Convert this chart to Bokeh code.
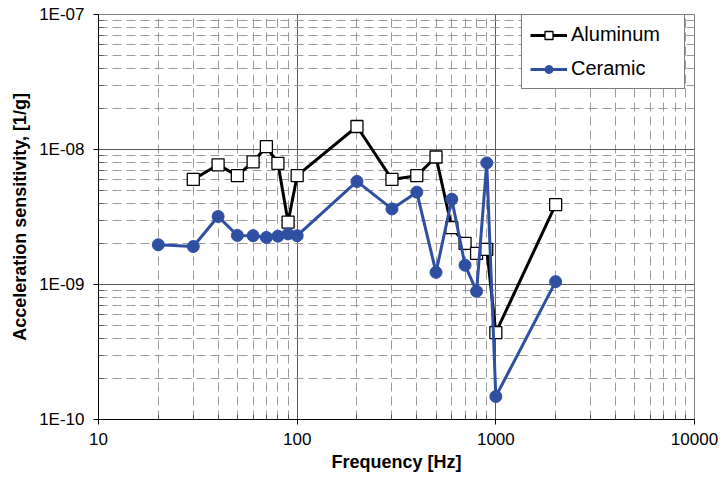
from bokeh.plotting import figure
from bokeh.models import FixedTicker, CustomJSTickFormatter, Legend, LegendItem
from bokeh.embed import file_html
from bokeh.resources import INLINE

# ---- data ----
alu_freq = [30, 40, 50, 60, 70, 80, 90, 100, 200, 300, 400, 500, 600, 700, 800, 900, 1000, 2000]
alu_sens = [6.0e-9, 7.7e-9, 6.4e-9, 8.1e-9, 1.05e-8, 7.9e-9, 2.9e-9, 6.4e-9, 1.48e-8,
            6.0e-9, 6.4e-9, 8.8e-9, 2.64e-9, 2.02e-9, 1.7e-9, 1.82e-9, 4.4e-10, 3.9e-9]
cer_freq = [20, 30, 40, 50, 60, 70, 80, 90, 100, 200, 300, 400, 500, 600, 700, 800, 900, 1000, 2000]
cer_sens = [1.97e-9, 1.91e-9, 3.19e-9, 2.31e-9, 2.3e-9, 2.23e-9, 2.28e-9, 2.37e-9, 2.3e-9,
            5.8e-9, 3.63e-9, 4.83e-9, 1.23e-9, 4.28e-9, 1.39e-9, 8.9e-10, 7.96e-9, 1.48e-10, 1.05e-9]
x_ticks = [10, 100, 1000, 10000]
x_labels = ["10", "100", "1000", "10000"]
y_ticks = [1e-10, 1e-9, 1e-8, 1e-7]
y_labels = ["1E-10", "1E-09", "1E-08", "1E-07"]
series_names = ["Aluminum", "Ceramic"]

FONT = "Liberation Sans"
BLUE = "#2f4fa2"

p = figure(width=720, height=481, x_axis_type="log", y_axis_type="log",
           x_range=(10, 10000), y_range=(1e-10, 1e-7),
           output_backend="svg", toolbar_location=None,
           min_border_left=98, min_border_right=26, min_border_top=14, min_border_bottom=62)
p.background_fill_color = "white"
p.border_fill_color = "white"
p.outline_line_color = "#808080"
p.outline_line_width = 1

x_minor = [d * k for d in [10, 100, 1000] for k in range(2, 10)]
y_minor = [d * k for d in [1e-10, 1e-9, 1e-8] for k in range(2, 10)]
p.xaxis.ticker = FixedTicker(ticks=x_ticks, minor_ticks=x_minor)
p.yaxis.ticker = FixedTicker(ticks=y_ticks, minor_ticks=y_minor)

fmt_code = """
let best = 0, bd = Infinity;
for (let i = 0; i < tks.length; i++) {
  const d = Math.abs(Math.log10(tick) - Math.log10(tks[i]));
  if (d < bd) { bd = d; best = i; }
}
return lbls[best];
"""
p.xaxis.formatter = CustomJSTickFormatter(args=dict(tks=x_ticks, lbls=x_labels), code=fmt_code)
p.yaxis.formatter = CustomJSTickFormatter(args=dict(tks=y_ticks, lbls=y_labels), code=fmt_code)

for g in (p.xgrid, p.ygrid):
    g.grid_line_color = "#5a5a5a"
    g.grid_line_width = 1
    g.minor_grid_line_color = "#9a9a9a"
    g.minor_grid_line_dash = "9 5"
    g.minor_grid_line_width = 1

for ax in (p.xaxis, p.yaxis):
    ax.axis_line_color = "black"
    ax.major_tick_line_color = "black"
    ax.minor_tick_line_color = "#555555"
    ax.major_tick_out = 5
    ax.major_tick_in = 0
    ax.minor_tick_in = 5
    ax.minor_tick_out = 0
    ax.major_label_text_font = FONT
    ax.major_label_text_font_size = "17px"
    ax.major_label_text_color = "black"
    ax.axis_label_text_font = FONT
    ax.axis_label_text_font_size = "18px"
    ax.axis_label_text_font_style = "bold"
    ax.axis_label_text_color = "black"

p.xaxis.axis_label = "Frequency [Hz]"
p.yaxis.axis_label = "Acceleration sensitivity, [1/g]"
p.xaxis.major_label_standoff = 8
p.yaxis.major_label_standoff = 9
p.xaxis.axis_label_standoff = 4
p.yaxis.axis_label_standoff = 6

l1 = p.line(alu_freq, alu_sens, line_color="black", line_width=3)
s1 = p.scatter(alu_freq, alu_sens, marker="square", size=12, fill_color="white",
               line_color="black", line_width=1.3)
l2 = p.line(cer_freq, cer_sens, line_color=BLUE, line_width=3)
s2 = p.scatter(cer_freq, cer_sens, marker="circle", size=12, fill_color=BLUE,
               line_color=BLUE, line_width=1)

legend = Legend(items=[LegendItem(label=series_names[0], renderers=[l1, s1]),
                       LegendItem(label=series_names[1], renderers=[l2, s2])],
                location=(423, 330))
legend.label_text_font = FONT
legend.label_text_font_size = "20px"
legend.label_text_color = "black"
legend.border_line_color = "black"
legend.border_line_width = 1
legend.background_fill_color = "white"
legend.background_fill_alpha = 1
legend.padding = 8
legend.spacing = 11
legend.glyph_width = 37
legend.glyph_height = 20
legend.label_height = 20
legend.label_width = 105
legend.label_standoff = 4
legend.margin = 0
p.add_layout(legend)

open("out.html", "w").write(file_html(p, INLINE))
